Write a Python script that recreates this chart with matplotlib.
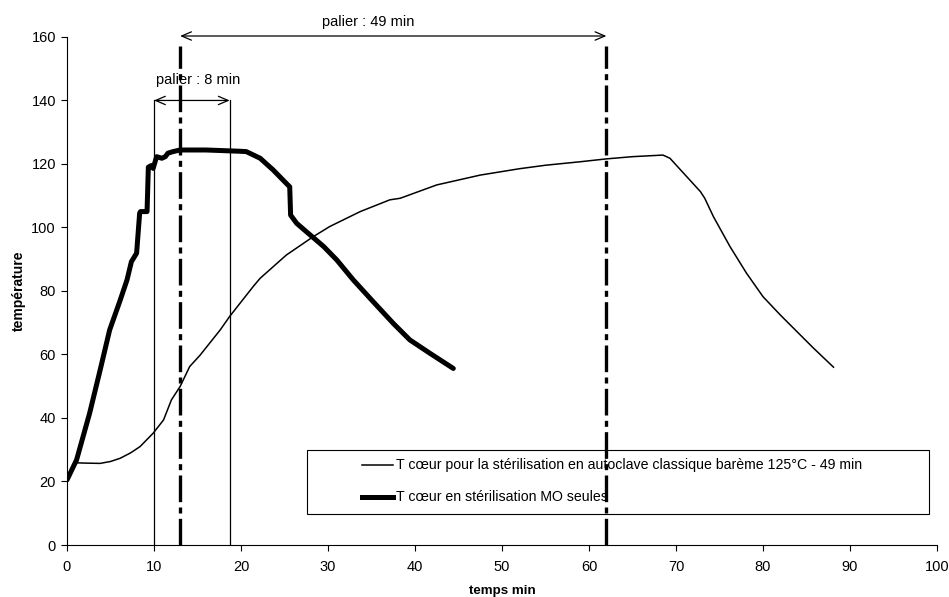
import matplotlib.pyplot as plt
from matplotlib.lines import Line2D
from matplotlib.patches import Rectangle

plt.rcParams['font.family'] = ['Liberation Sans', 'DejaVu Sans']

# ----------------------------------------------------------
# DATA
# ----------------------------------------------------------
# T coeur - autoclave classique (thin line)
t_ac = [0, 0.9, 2, 3.8, 5, 6.1, 7.3, 8.4, 9.9, 11.1, 12.0, 13, 14.1, 15.3,
        17.6, 18.7, 21.4, 22.2, 25.2, 28.3, 30.2, 33.7, 37.1, 38.3, 42.5,
        47.5, 52, 55, 59, 62, 65, 68.5, 69.3, 72.8, 73.3, 74.3, 76.2, 78.1,
        80, 82, 83.9, 85.8, 88.1]
temp_ac = [20.5, 25.9, 25.8, 25.7, 26.3, 27.3, 29, 31, 35.2, 39.4, 45.7, 49.9,
           56.2, 59.8, 67.7, 72.0, 81.4, 84, 91.3, 97.1, 100.3, 105, 108.7,
           109.2, 113.4, 116.5, 118.5, 119.6, 120.7, 121.6, 122.3, 122.8,
           121.8, 111.3, 109.2, 103.4, 94, 85.6, 78.2, 72.4, 67.2, 62, 56]

# T coeur - sterilisation MO seules (thick line)
t_mo = [0, 1.1, 2.6, 3.8, 4.9, 6.1, 6.9, 7.4, 8.0, 8.35, 8.45, 9.2, 9.35, 9.7,
        9.9, 10.3, 10.9, 11.3, 11.6, 12.2, 13, 16, 19.9, 20.6, 22.2, 23.7,
        25.2, 25.6, 25.7, 26.4, 27.5, 29.5, 31, 32.9, 35.2, 37.5, 39.4, 41.7,
        44.4]
temp_mo = [20.5, 26.8, 41.5, 55, 67.7, 77, 83.5, 89.2, 91.9, 104.5, 105, 105,
           119, 119.5, 118.6, 122.3, 121.8, 122.3, 123.4, 123.9, 124.4, 124.4,
           124.0, 123.9, 121.8, 118.1, 113.9, 112.8, 103.9, 101.3, 98.7, 94,
           89.8, 83.5, 76.6, 69.8, 64.6, 60.4, 55.6]

# plateau markers
pal_mo = (10, 18.7)      # palier 8 min
pal_ac = (13, 62)        # palier 49 min
lab_ac = "T cœur pour la stérilisation en autoclave classique barème 125°C - 49 min"
lab_mo = "T cœur en stérilisation MO seules"

# ----------------------------------------------------------
# FIGURE
# ----------------------------------------------------------
fig = plt.figure(figsize=(9.49, 5.97), dpi=100)
ax = fig.add_axes([0.0706, 0.0871, 0.9168, 0.851])

l_ac, = ax.plot(t_ac, temp_ac, color='black', lw=1.1, zorder=3)
l_mo, = ax.plot(t_mo, temp_mo, color='black', lw=3.6, zorder=3,
                solid_joinstyle='round', solid_capstyle='round')

# palier 8 min: thin verticals + arrow
for xv in pal_mo:
    ax.plot([xv, xv], [0, 140], color='black', lw=0.9, zorder=2)
ax.annotate('', xy=(pal_mo[0], 140), xytext=(pal_mo[1], 140),
            arrowprops=dict(arrowstyle='<->,head_length=0.7,head_width=0.3',
                            color='black', lw=0.9, shrinkA=0, shrinkB=0))
ax.text(15.1, 146.5, 'palier : 8 min', ha='center', va='center', fontsize=10.5)

# palier 49 min: dash-dot verticals + arrow
for xv in pal_ac:
    ax.plot([xv, xv], [0, 157.3], color='black', lw=2.4,
            dashes=(8, 1.6, 1.8, 1.6), dash_capstyle='butt', zorder=6,
            clip_on=False)
ax.annotate('', xy=(pal_ac[0], 160.3), xytext=(pal_ac[1], 160.3),
            arrowprops=dict(arrowstyle='<->,head_length=0.7,head_width=0.3',
                            color='black', lw=0.9, shrinkA=0, shrinkB=0),
            annotation_clip=False)
ax.text(34.6, 164.8, 'palier : 49 min', ha='center', va='center', fontsize=10.5)

# legend drawn by hand (box position as in the original)
ax.add_patch(Rectangle((0.2759, 0.061), 0.7149, 0.126, transform=ax.transAxes,
                       facecolor='white', edgecolor='black', lw=0.8, zorder=5))
for yy, lw, lab in [(0.1575, 1.1, lab_ac), (0.0951, 3.6, lab_mo)]:
    ax.add_line(Line2D([0.3387, 0.3744], [yy, yy], transform=ax.transAxes,
                       color='black', lw=lw, zorder=5.5))
    ax.text(0.3782, yy, lab, transform=ax.transAxes, va='center',
            fontsize=10.2, zorder=5.5)

ax.set_xlim(0, 100)
ax.set_ylim(0, 160)
ax.set_xticks(range(0, 101, 10))
ax.set_yticks(range(0, 161, 20))
ax.tick_params(direction='out', length=4.5, width=0.8, labelsize=10.5)
ax.tick_params(axis='x', pad=6)
for s in ['top', 'right']:
    ax.spines[s].set_visible(False)
for s in ['left', 'bottom']:
    ax.spines[s].set_linewidth(0.8)

ax.set_xlabel('temps min', fontweight='bold', fontsize=9.6, labelpad=8)
ax.set_ylabel('température', fontweight='bold', fontsize=10, labelpad=4)

fig.savefig('out.png', dpi=100)
